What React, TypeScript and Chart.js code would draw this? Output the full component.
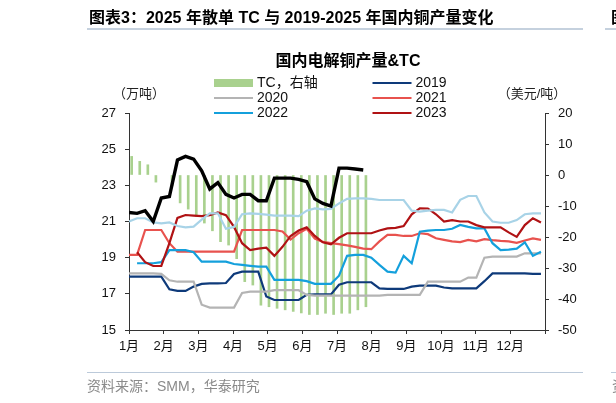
import React, { useEffect, useRef } from 'react';
import { Chart, registerables } from 'chart.js';

Chart.register(...registerables);

// ---------- data ----------
const MONTH_LABELS = ['1月', '2月', '3月', '4月', '5月', '6月', '7月', '8月', '9月', '10月', '11月', '12月'];

const HEADER = '图表3：2025 年散单 TC 与 2019-2025 年国内铜产量变化';
const CHART_TITLE = '国内电解铜产量&TC';
const LEFT_UNIT = '（万吨）';
const RIGHT_UNIT = '（美元/吨）';
const SOURCE = '资料来源：SMM，华泰研究';

const SERIES_LABELS = ['TC，右轴', '2019', '2020', '2021', '2022', '2023', '2024', '2025'];

// weekly TC (USD/t, right axis), 2025
const TC_2025 = [6.0, 4.4, 3.3, -2.3, null, -3.5, -9, -11, -13.4, -15.5, -18, -21.5, -22.6, -27, -34.4, -35.5, -42, -42.5, -43, -43.5, -44, -44.5, -45, -45, -44.6, -45, -44.6, -44.6, -43.5, -42.5];

// weekly output (10k t, left axis)
const Y2019 = [17.95, 17.95, 17.95, 17.95, 17.95, 17.25, 17.16, 17.16, 17.4, 17.55, 17.58, 17.58, 17.6, 18.1, 18.23, 18.23, 18.23, 16.85, 16.66, 16.66, 16.66, 16.66, 16.95, 16.97, 16.97, 16.97, 17.5, 17.64, 17.64, 17.64, 17.64, 17.3, 17.27, 17.27, 17.27, 17.4, 17.45, 17.45, 17.45, 17.35, 17.3, 17.3, 17.3, 17.3, 17.7, 18.13, 18.13, 18.13, 18.13, 18.13, 18.1, 18.1];
const Y2020 = [18.13, 18.13, 18.13, 18.13, 18.1, 17.75, 17.67, 17.67, 17.67, 16.4, 16.24, 16.24, 16.24, 16.24, 17.05, 17.12, 17.12, 17.12, 17.2, 17.2, 17.2, 17.2, 16.94, 16.9, 16.9, 16.9, 16.9, 16.9, 16.9, 16.9, 16.9, 16.9, 16.94, 16.94, 16.94, 16.94, 16.94, 17.67, 17.67, 17.67, 17.67, 17.67, 17.9, 17.9, 19.0, 19.06, 19.06, 19.06, 19.06, 19.24, 19.24, 19.24];
const Y2021 = [19.15, 19.15, 20.53, 20.53, 20.53, 19.8, 19.33, 19.33, 19.33, 19.33, 19.33, 19.33, 19.33, 19.33, 20.53, 20.53, 20.53, 20.53, 20.53, 20.45, 20.0, 20.35, 20.6, 20.05, 19.87, 19.8, 19.75, 19.68, 19.6, 19.5, 19.47, 19.9, 20.26, 20.26, 20.2, 20.2, 20.35, 20.3, 20.07, 19.98, 19.9, 19.86, 19.98, 19.9, 20.02, 19.97, 19.93, 19.9, 19.82, 19.95, 20.07, 19.98];
const Y2022 = [null, 18.69, 18.69, 18.69, 18.75, 19.42, 19.42, 19.42, 19.3, 18.78, 18.78, 18.78, 18.78, 18.65, 18.6, 18.55, 18.5, 18.5, 17.77, 17.77, 17.77, 17.77, 17.7, 17.55, 17.55, 17.55, 18.0, 19.1, 19.15, 19.15, 19.0, 18.6, 18.23, 18.17, 19.1, 18.69, 20.44, 20.5, 20.53, 20.53, 20.6, 20.81, 20.7, 20.62, 20.62, 19.8, 19.42, 19.45, 19.5, 19.85, 19.1, 19.33];
const Y2023 = [null, 19.3, 18.75, 18.54, 18.54, 19.8, 21.2, 21.36, 21.33, 21.3, 21.35, 21.5, 21.35, 20.7, 19.8, 19.42, 19.5, 19.55, 19.1, 19.6, 20.2, 20.5, 20.68, 20.2, 19.85, 19.74, 20.1, 20.35, 20.35, 20.35, 20.35, 20.5, 20.62, 20.65, 20.75, 21.4, 21.73, 21.72, 21.4, 21.0, 21.08, 21.0, 21.0, 20.8, 20.68, 20.68, 20.68, 20.4, 20.15, 20.8, 21.18, 20.95];
const Y2024 = [21.0, 21.18, 21.18, 20.95, 20.9, 20.95, 20.75, 20.68, 20.72, 21.1, 21.45, 21.45, 20.6, 20.7, 21.4, 21.45, 21.42, 21.38, 21.33, 21.33, 21.33, 21.3, 21.6, 21.72, 21.67, 21.7, 22.0, 22.25, 22.28, 22.28, 22.25, 22.19, 22.19, 22.19, 22.19, 21.6, 21.55, 21.6, 21.64, 21.64, 21.5, 22.2, 22.41, 22.41, 21.5, 21.0, 20.93, 20.93, 21.08, 21.4, 21.45, 21.45];
const Y2025 = [21.5, 21.45, 21.6, 21.0, 22.3, 22.38, 24.4, 24.6, 24.45, 23.8, 22.8, 23.15, 22.5, 22.3, 22.5, 22.5, 22.15, 22.15, 23.4, 23.4, 23.4, 23.33, 23.2, 22.25, 22.0, 21.85, 23.95, 23.95, 23.9, 23.85];

const LEFT_TICKS = { min: 15, max: 27, step: 2 };
const RIGHT_TICKS = { min: -50, max: 20, step: 10 };

// ---------- styling ----------
const FONT = '"Liberation Sans", "Noto Sans CJK SC", sans-serif';
const WEEK = 12 / 51.5; // months per week on the x axis
const TC_SHIFT = 0.33;

const COLORS = {
  tc: '#a9d18e',
  y2019: '#0e3a7a',
  y2020: '#b4b4b4',
  y2021: '#e8524e',
  y2022: '#14a0dc',
  y2023: '#b01214',
  y2024: '#a8d3e7',
  y2025: '#000000',
};

const pts = (arr: (number | null)[], shift = 0) => arr.map((v, i) => ({ x: (i + shift) * WEEK, y: v }));

// legend layout: [dataset index, column, row]
const LEGEND_LAYOUT: [number, number, number][] = [
  [0, 0, 0],
  [1, 1, 0],
  [2, 0, 1],
  [3, 1, 1],
  [4, 0, 2],
  [5, 1, 2],
];

const overlayPlugin = {
  id: 'overlay',
  afterDraw(chart: any) {
    const ctx = chart.ctx as CanvasRenderingContext2D;
    ctx.save();
    ctx.fillStyle = '#000';
    ctx.textBaseline = 'middle';
    ctx.textAlign = 'center';
    ctx.font = `bold 16px ${FONT}`;
    ctx.fillText(CHART_TITLE, 348, 62);
    ctx.font = `13px ${FONT}`;
    ctx.fillStyle = '#222';
    ctx.fillText(LEFT_UNIT, 139, 94);
    ctx.fillText(RIGHT_UNIT, 532, 94);

    // legend
    const colX = [214, 372.5];
    const rowY = [83, 98, 113];
    const symW = 39;
    ctx.font = `14px ${FONT}`;
    ctx.textAlign = 'left';
    LEGEND_LAYOUT.forEach(([di, c, r]) => {
      const ds = chart.data.datasets[di];
      const x = colX[c];
      const y = rowY[r];
      if (ds.type === 'bar') {
        ctx.fillStyle = ds.backgroundColor;
        ctx.fillRect(x, y - 4, symW, 8);
      } else {
        ctx.strokeStyle = ds.borderColor;
        ctx.lineWidth = 2.2;
        ctx.beginPath();
        ctx.moveTo(x, y);
        ctx.lineTo(x + symW, y);
        ctx.stroke();
      }
      ctx.fillStyle = '#111';
      ctx.fillText(ds.label, x + symW + 4, y + 0.5);
    });
    ctx.restore();
  },
};

export default function App() {
  const ref = useRef<HTMLCanvasElement>(null);

  useEffect(() => {
    if (!ref.current) return;
    const line = (label: string, data: (number | null)[], color: string, width: number, order: number) => ({
      type: 'line' as const,
      label,
      data: pts(data),
      yAxisID: 'y',
      borderColor: color,
      backgroundColor: color,
      borderWidth: width,
      pointRadius: 0,
      tension: 0,
      fill: false,
      order,
      spanGaps: false,
    });

    const chart = new Chart(ref.current, {
      type: 'bar',
      data: {
        datasets: [
          {
            type: 'bar',
            label: SERIES_LABELS[0],
            data: pts(TC_2025, TC_SHIFT) as any,
            yAxisID: 'y1',
            backgroundColor: COLORS.tc,
            borderWidth: 0,
            barThickness: 2,
            order: 100,
          } as any,
          line(SERIES_LABELS[1], Y2019, COLORS.y2019, 2.2, 7),
          line(SERIES_LABELS[2], Y2020, COLORS.y2020, 2.2, 6),
          line(SERIES_LABELS[3], Y2021, COLORS.y2021, 2.2, 5),
          line(SERIES_LABELS[4], Y2022, COLORS.y2022, 2.2, 4),
          line(SERIES_LABELS[5], Y2023, COLORS.y2023, 2.2, 3),
          line(SERIES_LABELS[6], Y2024, COLORS.y2024, 2.2, 2),
          line(SERIES_LABELS[7], Y2025, COLORS.y2025, 3.4, 1),
        ],
      },
      options: {
        responsive: false,
        maintainAspectRatio: false,
        animation: false,
        events: [],
        layout: { padding: { top: 113, left: 0, right: 0, bottom: 0 } },
        plugins: {
          legend: { display: false },
          tooltip: { enabled: false },
          title: { display: false },
        },
        scales: {
          x: {
            type: 'linear',
            min: 0,
            max: 12,
            offset: false,
            ticks: {
              stepSize: 1,
              autoSkip: false,
              maxRotation: 0,
              padding: 5,
              color: '#111',
              font: { family: FONT, size: 13 },
              callback: (v: any) => MONTH_LABELS[v] ?? '',
            },
            grid: { drawOnChartArea: false, drawTicks: true, tickLength: 4, color: '#333', offset: false },
            border: { color: '#333', width: 1 },
            afterFit: (s: any) => {
              s.height = 73;
            },
          },
          y: {
            type: 'linear',
            position: 'left',
            min: LEFT_TICKS.min,
            max: LEFT_TICKS.max,
            ticks: {
              stepSize: LEFT_TICKS.step,
              padding: 9,
              color: '#111',
              font: { family: FONT, size: 13 },
            },
            grid: { drawOnChartArea: false, drawTicks: true, tickLength: 4, color: '#333' },
            border: { color: '#333', width: 1 },
            afterFit: (s: any) => {
              s.width = 129;
            },
          },
          y1: {
            type: 'linear',
            position: 'right',
            min: RIGHT_TICKS.min,
            max: RIGHT_TICKS.max,
            ticks: {
              stepSize: RIGHT_TICKS.step,
              padding: 9,
              color: '#111',
              font: { family: FONT, size: 13 },
            },
            grid: { drawOnChartArea: false, drawTicks: true, tickLength: 4, color: '#333' },
            border: { color: '#333', width: 1 },
            afterFit: (s: any) => {
              s.width = 71;
            },
          },
        },
      } as any,
      plugins: [overlayPlugin],
    });
    return () => chart.destroy();
  }, []);

  return (
    <div
      style={{
        position: 'fixed',
        left: 0,
        top: 0,
        width: 616,
        height: 403,
        overflow: 'hidden',
        background: '#fff',
        fontFamily: FONT,
      }}
    >
      <canvas ref={ref} width={616} height={403} style={{ position: 'absolute', left: 0, top: 0, width: 616, height: 403 }} />
      <div
        style={{
          position: 'absolute',
          left: 89,
          top: 8,
          height: 20,
          lineHeight: '20px',
          fontSize: 16,
          fontWeight: 'bold',
          color: '#000',
          whiteSpace: 'nowrap',
        }}
      >
        {HEADER}
      </div>
      <div style={{ position: 'absolute', left: 87, top: 28, width: 496, height: 2, background: '#c5d1de' }} />
      <div style={{ position: 'absolute', left: 605, top: 28, width: 20, height: 2, background: '#c5d1de' }} />
      <div
        style={{
          position: 'absolute',
          left: 611,
          top: 8,
          height: 20,
          lineHeight: '20px',
          fontSize: 16,
          fontWeight: 'bold',
          color: '#000',
          whiteSpace: 'nowrap',
        }}
      >
        图表4
      </div>
      <div style={{ position: 'absolute', left: 87, top: 372, width: 496, height: 1, background: '#bccada' }} />
      <div style={{ position: 'absolute', left: 611, top: 372, width: 10, height: 1, background: '#bccada' }} />
      <div
        style={{
          position: 'absolute',
          left: 87,
          top: 377,
          height: 18,
          lineHeight: '18px',
          fontSize: 14,
          color: '#8a8a8a',
          whiteSpace: 'nowrap',
        }}
      >
        {SOURCE}
      </div>
      <div
        style={{
          position: 'absolute',
          left: 612,
          top: 377,
          height: 18,
          lineHeight: '18px',
          fontSize: 14,
          color: '#8a8a8a',
          whiteSpace: 'nowrap',
        }}
      >
        资料
      </div>
    </div>
  );
}
